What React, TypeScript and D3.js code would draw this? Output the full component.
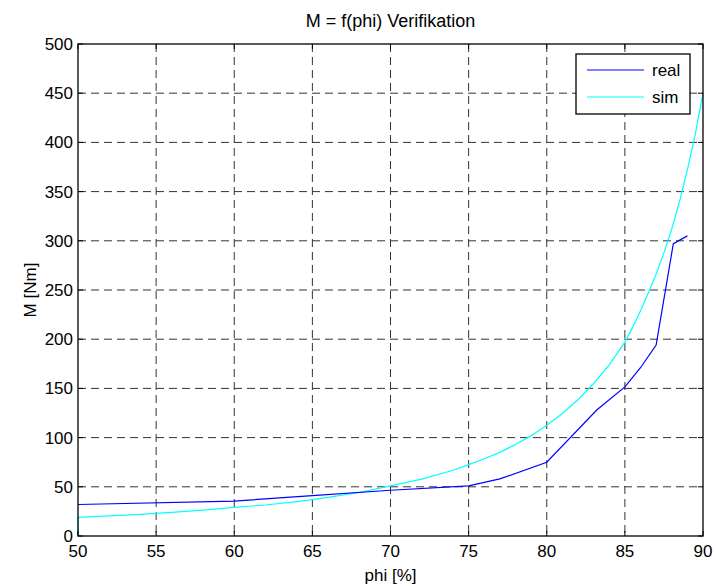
import React from "react";
import * as d3 from "d3";

const xTicks = [50, 55, 60, 65, 70, 75, 80, 85, 90];
const yTicks = [0, 50, 100, 150, 200, 250, 300, 350, 400, 450, 500];

const realPhi = [50, 60, 65, 70, 75, 77, 80, 83.2, 85, 86, 87, 88.1, 89];
const realM = [32, 35.5, 41, 46.5, 51, 58, 75, 128, 151.5, 171, 194, 297, 305];

const simPhi = [50, 50, 52, 54, 56, 58, 60, 62, 64, 65, 66, 68, 70, 72, 74, 75, 76, 77, 78, 79, 80, 81, 82, 83, 84, 85, 85.5, 86, 86.5, 87, 87.5, 88, 88.5, 89, 89.5, 90];
const simM = [0, 19, 20.5, 22, 24, 26.3, 29, 31.5, 35, 37, 39.2, 44.2, 51, 57.8, 66.8, 72.5, 78.5, 85, 93, 102, 112.5, 124.5, 138.5, 155, 174, 197, 212, 229, 247, 266, 288, 312, 340, 372, 408, 450];

const legendLabels = ["real", "sim"];
const colors = ["#0000ff", "#00ffff"];

const W = 716, H = 586;
const L = 78, R = 703, T = 44, B = 536;
const FONT = "'Liberation Sans', Arial, Helvetica, sans-serif";

export default function App() {
  const x = d3.scaleLinear().domain([50, 90]).range([L, R]);
  const y = d3.scaleLinear().domain([0, 500]).range([B, T]);
  const line = d3.line<[number, number]>().x(d => x(d[0])).y(d => y(d[1]));
  const realPts: [number, number][] = realPhi.map((p, i) => [p, realM[i]]);
  const simPts: [number, number][] = simPhi.map((p, i) => [p, simM[i]]);
  const tk = 5;
  return (
    <svg width={W} height={H} style={{ position: "absolute", left: 0, top: 0, background: "#fff" }} fontFamily={FONT}>
      <rect x={0} y={0} width={W} height={H} fill="#fff" />
      {/* grid */}
      {xTicks.slice(1, -1).map(t => (
        <line key={"gx" + t} x1={x(t)} x2={x(t)} y1={T} y2={B} stroke="#333" strokeWidth={1} strokeDasharray="8,5" />
      ))}
      {yTicks.slice(1, -1).map(t => (
        <line key={"gy" + t} x1={L} x2={R} y1={y(t)} y2={y(t)} stroke="#333" strokeWidth={1} strokeDasharray="8,5" />
      ))}
      {/* data */}
      <path d={line(simPts) || ""} fill="none" stroke={colors[1]} strokeWidth={1.2} />
      <path d={line(realPts) || ""} fill="none" stroke={colors[0]} strokeWidth={1.2} />
      {/* ticks */}
      {xTicks.map(t => (
        <g key={"tx" + t}>
          <line x1={x(t)} x2={x(t)} y1={B} y2={B - tk} stroke="#000" />
          <line x1={x(t)} x2={x(t)} y1={T} y2={T + tk} stroke="#000" />
          <text x={x(t)} y={557} fontSize={17} textAnchor="middle">{t}</text>
        </g>
      ))}
      {yTicks.map(t => (
        <g key={"ty" + t}>
          <line x1={L} x2={L + tk} y1={y(t)} y2={y(t)} stroke="#000" />
          <line x1={R} x2={R - tk} y1={y(t)} y2={y(t)} stroke="#000" />
          <text x={73} y={y(t)} dy="0.35em" fontSize={17} textAnchor="end">{t}</text>
        </g>
      ))}
      {/* box */}
      <rect x={L} y={T} width={R - L} height={B - T} fill="none" stroke="#000" strokeWidth={1.3} />
      {/* title & labels */}
      <text x={(L + R) / 2} y={27} fontSize={18} textAnchor="middle">M = f(phi) Verifikation</text>
      <text x={(L + R) / 2} y={581} fontSize={17} textAnchor="middle">phi [%]</text>
      <text transform={`translate(36,${(T + B) / 2}) rotate(-90)`} fontSize={17} textAnchor="middle">M [Nm]</text>
      {/* legend */}
      <rect x={576} y={54} width={114} height={60} fill="#fff" stroke="#000" strokeWidth={1.3} />
      {legendLabels.map((lab, i) => (
        <g key={lab}>
          <line x1={587} x2={644} y1={70 + i * 27} y2={70 + i * 27} stroke={colors[i]} strokeWidth={1.2} />
          <text x={652} y={70 + i * 27} dy="0.35em" fontSize={17}>{lab}</text>
        </g>
      ))}
    </svg>
  );
}
